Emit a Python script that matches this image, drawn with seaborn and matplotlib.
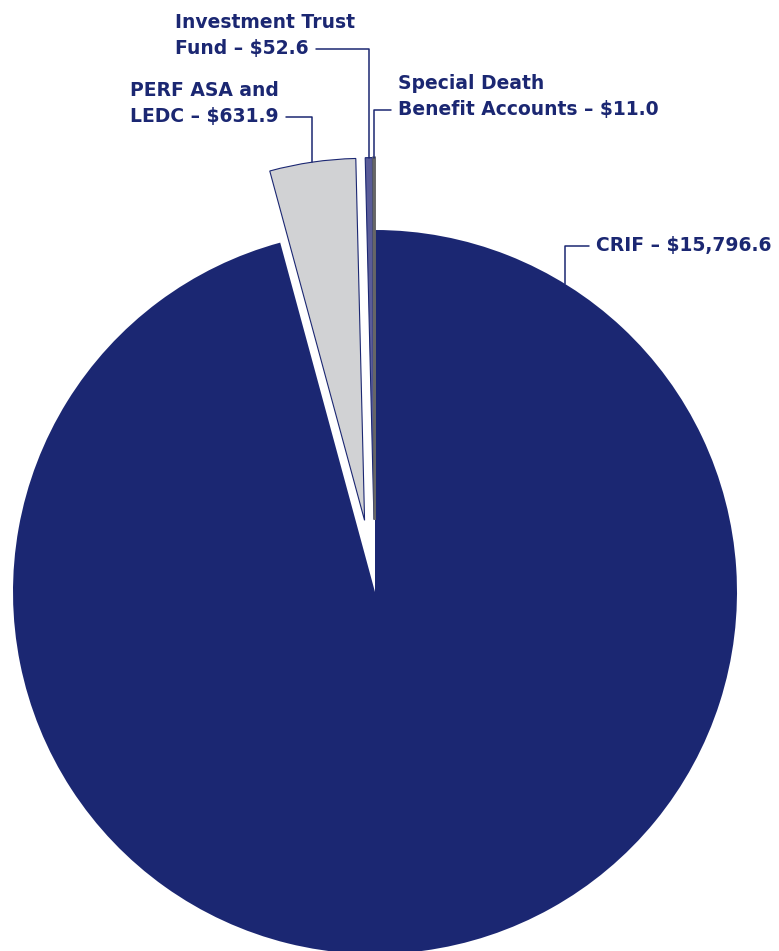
import numpy as np
import matplotlib
matplotlib.use("Agg")
import matplotlib.pyplot as plt
import seaborn as sns

# Donnees (millions $)
labels = ["CRIF", "PERF ASA and LEDC", "Investment Trust Fund", "Special Death Benefit Accounts"]
values = [15796.6, 631.9, 52.6, 11.0]
label_lines = [
    ["CRIF – $15,796.6"],
    ["PERF ASA and", "LEDC – $631.9"],
    ["Investment Trust", "Fund – $52.6"],
    ["Special Death", "Benefit Accounts – $11.0"],
]
colors = ["#1b2772", "#d1d2d4", "#5a5c98", "#666666"]
explode = [0.0, 0.2, 0.2, 0.2]

sns.set_theme(style="white")
plt.rcParams["font.family"] = ["DejaVu Sans"]

NAVY = "#1b2772"
W, H = 779, 951
CX, CY, R = 375, 592, 362


def px(x, y):
    # pixels (origine en haut a gauche) -> coordonnees du camembert
    return ((x - CX) / R, (CY - y) / R)


fig = plt.figure(figsize=(W / 100, H / 100), dpi=100)
ax = fig.add_axes([0, 0, 1, 1])

wedges, _ = ax.pie(
    values, colors=colors, startangle=90, counterclock=False,
    explode=explode, radius=1, center=(0, 0),
    wedgeprops=dict(edgecolor=NAVY, linewidth=0.8),
)
wedges[0].set_linewidth(0)
wedges[3].set_edgecolor(colors[3])
wedges[3].set_linewidth(1.6)

ax.set_xlim(-CX / R, (W - CX) / R)
ax.set_ylim(-(H - CY) / R, CY / R)
ax.set_aspect("auto")
ax.axis("off")


def anchor(w, ang=None):
    if ang is None:
        ang = 0.5 * (w.theta1 + w.theta2)
    a = np.deg2rad(ang)
    return (w.center[0] + w.r * np.cos(a), w.center[1] + w.r * np.sin(a))


# position du texte: (x gauche, lignes de base en pixels), cote de la ligne
text_pos = [
    (596, [251], "left"),
    (130, [96, 122], "right"),
    (175, [28, 54], "right"),
    (398, [89, 115], "left"),
]
anchor_angles = [58.4, None, None, None]

txt_kw = dict(color=NAVY, fontsize=13.5, fontweight="bold", ha="left", va="baseline")
for w, lines, (x0, bases, side), ang in zip(wedges, label_lines, text_pos, anchor_angles):
    for line, yb in zip(lines[:-1], bases[:-1]):
        ax.text(*px(x0, yb), line, **txt_kw)
    ax.annotate(
        lines[-1], xy=anchor(w, ang), xytext=px(x0, bases[-1]),
        textcoords="data", **txt_kw,
        arrowprops=dict(
            arrowstyle="-", color=NAVY, lw=1.1,
            connectionstyle="angle,angleA=0,angleB=90,rad=0",
            relpos=(1, 0.45) if side == "right" else (0, 0.45),
            shrinkA=3, shrinkB=0,
        ),
    )

fig.savefig("out.png", dpi=100)
